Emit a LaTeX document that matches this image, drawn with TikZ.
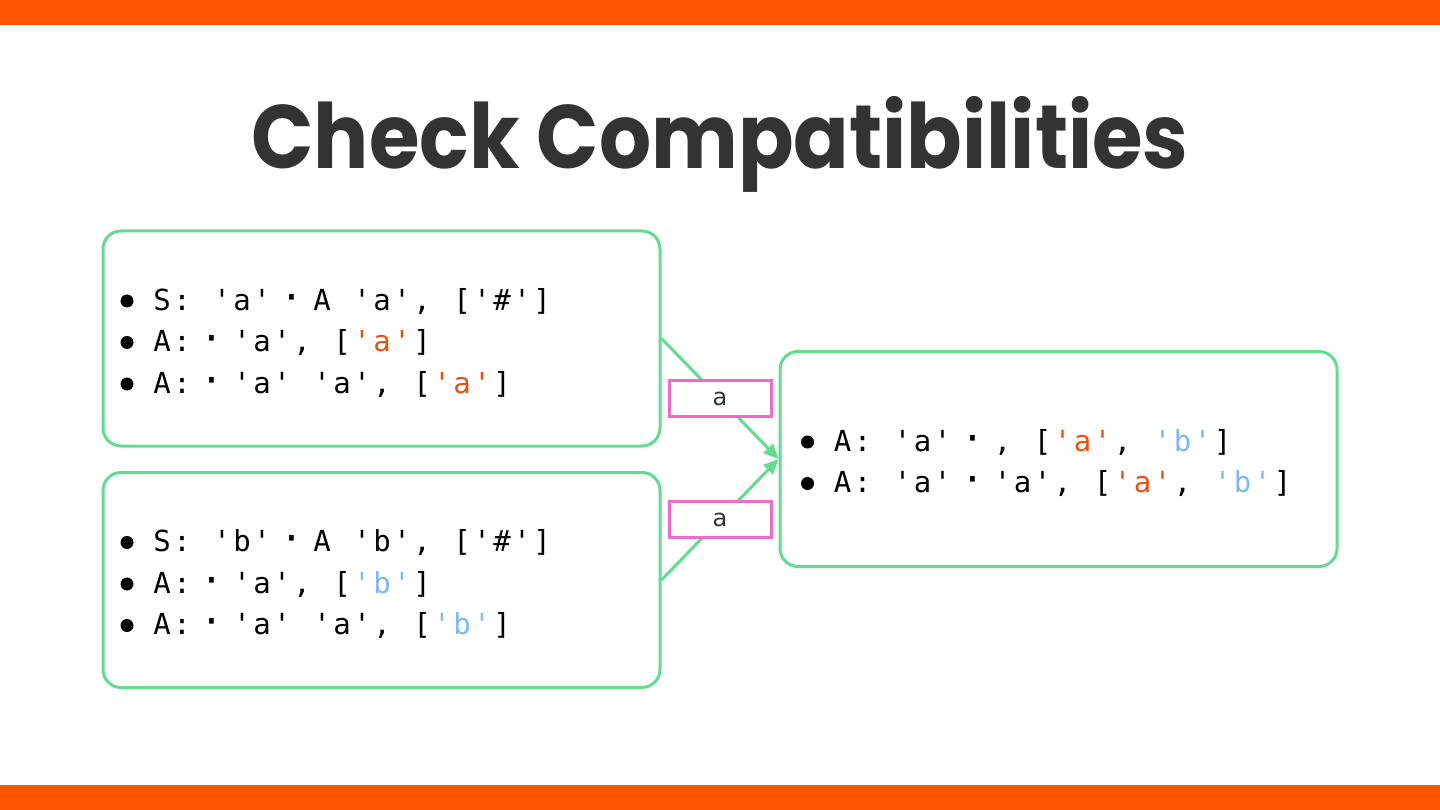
\documentclass[tikz,border=0pt]{standalone}
\usepackage{fontspec}
\usepackage{xcolor}
\usepackage{graphicx}
\usetikzlibrary{arrows.meta}
\setmainfont{DejaVu Sans}
\newfontfamily\titlefont{Poppins}
\newfontfamily\codefont{DejaVu Sans Mono}
\newfontfamily\lblfont{DejaVu Sans}
\definecolor{barorange}{HTML}{FF5300}
\definecolor{boxgreen}{HTML}{63DC92}
\definecolor{lblpink}{HTML}{EE6BCB}
\definecolor{txtdark}{HTML}{333333}
\definecolor{codeorange}{HTML}{F0500F}
\definecolor{codeblue}{HTML}{7DB9F2}
\newcommand{\cO}{\color{codeorange}}
\newcommand{\cB}{\color{codeblue}}
\newlength\pitch
\setlength\pitch{20pt}
\makeatletter
\def\mono#1{\mono@loop#1\mono@end}
\def\mono@end{\mono@end}
\def\mono@loop#1{\ifx\mono@end#1\else\makebox[\pitch]{#1}\expandafter\mono@loop\fi}
\makeatother
\newcommand{\fwdot}{\makebox[2\pitch]{\codefont\fontsize{38}{38}\selectfont ·}}
\newcommand{\bline}[4]{%
  \fill[black] (#2-25,#3-9) circle (6.5);
  \node[codeline] (#1) at (#2,#3) {#4};}
\tikzset{
  box/.style={draw=boxgreen, line width=3pt, rounded corners=18pt, fill=white,
    minimum width=557pt, minimum height=215pt, inner sep=0pt},
  codeline/.style={anchor=base west, inner sep=0pt, font=\codefont\fontsize{29}{34}\selectfont, text=black},
  conn/.style={draw=boxgreen, line width=3pt, -{Triangle[length=15pt,width=13pt]}},
  lbl/.style={draw=lblpink, line width=3pt, fill=white, minimum width=102pt,
    minimum height=36pt, inner sep=0pt, font=\lblfont\fontsize{24}{26}\selectfont, text=txtdark},
  bar/.style={fill=barorange, draw=none}
}
\begin{document}
\begin{tikzpicture}[x=1pt,y=-1pt]
\useasboundingbox (0,0) rectangle (1440,810);
\fill[white] (0,0) rectangle (1440,810);
\fill[bar] (0,0) rectangle (1440,25);
\fill[bar] (0,785) rectangle (1440,810);
\node[anchor=base, text=txtdark, font=\titlefont\bfseries\fontsize{90}{100}\selectfont] (title) at (720,169) {\scalebox{0.91}[1]{Check Compatibilities}};
\node[box] (b1) at (381.5,338.5) {};
\node[box] (b2) at (381.5,580) {};
\node[box] (r) at (1058.5,459) {};
\draw[conn] (b1.east) -- node[lbl] (l1) {a} (r.west);
\draw[conn] (b2.east) -- node[lbl] (l2) {a} (r.west);
\bline{t11}{152}{310}{\mono{S:~'a'}\fwdot\mono{A~'a',~['\#']}}
\bline{t12}{152}{351.5}{\mono{A:}\fwdot\mono{'a',~[{\cO'}{\cO a}{\cO'}]}}
\bline{t13}{152}{393}{\mono{A:}\fwdot\mono{'a'~'a',~[{\cO'}{\cO a}{\cO'}]}}
\bline{t21}{152}{551.5}{\mono{S:~'b'}\fwdot\mono{A~'b',~['\#']}}
\bline{t22}{152}{593}{\mono{A:}\fwdot\mono{'a',~[{\cB'}{\cB b}{\cB'}]}}
\bline{t23}{152}{634.5}{\mono{A:}\fwdot\mono{'a'~'a',~[{\cB'}{\cB b}{\cB'}]}}
\bline{t31}{832.5}{451}{\mono{A:~'a'}\fwdot\mono{,~[{\cO'}{\cO a}{\cO'},~{\cB'}{\cB b}{\cB'}]}}
\bline{t32}{832.5}{492.5}{\mono{A:~'a'}\fwdot\mono{'a',~[{\cO'}{\cO a}{\cO'},~{\cB'}{\cB b}{\cB'}]}}
\end{tikzpicture}
\end{document}
